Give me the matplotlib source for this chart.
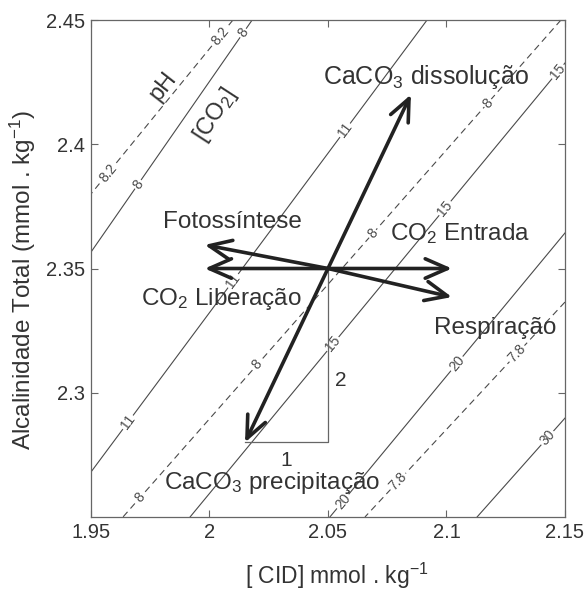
import math

import matplotlib

matplotlib.use("Agg")
import matplotlib.pyplot as plt

plt.rcParams["font.family"] = ["Liberation Sans", "DejaVu Sans"]
plt.rcParams["mathtext.fontset"] = "custom"
plt.rcParams["mathtext.rm"] = "Liberation Sans"
plt.rcParams["mathtext.it"] = "Liberation Sans:italic"

# CO2 isolines (solid): end points in [CID] / alkalinity units
co2_labels = ["8", "11", "15", "20", "30"]
co2_x0 = [2.018, 2.0918, 2.15, 2.15, 2.15]
co2_y0 = [2.45, 2.45, 2.4327, 2.3643, 2.2898]
co2_x1 = [1.95, 1.95, 1.9918, 2.0508, 2.1129]
co2_y1 = [2.3566, 2.2681, 2.25, 2.25, 2.25]
co2_label_pos = [[0.056, 0.708], [0.244, 0.577, 0.89], [0.019, 0.32, 0.619], [0.46, 0.945], [0.2]]

# pH isolines (dashed)
ph_labels = ["8.2", "8", "7.8"]
ph_x0 = [2.0099, 2.1483, 2.15]
ph_y0 = [2.45, 2.45, 2.3365]
ph_x1 = [1.95, 1.9635, 2.0656]
ph_y1 = [2.38, 2.25, 2.25]
ph_label_pos = [[0.09, 0.88], [0.167, 0.43, 0.694, 0.961], [0.24, 0.835]]

# process vectors, all starting from the same point
origin = (2.05, 2.35)
process_names = ["CaCO3 dissolução", "CaCO3 precipitação", "Fotossíntese",
                 "CO2 Liberação", "CO2 Entrada", "Respiração"]
process_x = [2.085, 2.015, 1.998, 1.998, 2.1023, 2.1023]
process_y = [2.42, 2.28, 2.3595, 2.35, 2.35, 2.3385]

x_ticks = [1.95, 2.0, 2.05, 2.1, 2.15]
x_ticklabels = ["1.95", "2", "2.05", "2.1", "2.15"]
y_ticks = [2.3, 2.35, 2.4, 2.45]
y_ticklabels = ["2.3", "2.35", "2.4", "2.45"]

LINE = "#4a4a4a"
TEXT = "#333333"

fig = plt.figure(figsize=(5.87, 5.92), dpi=100)
ax = fig.add_axes([0.155, 0.1267, 0.8075, 0.8395])
ax.set_xlim(1.95, 2.15)
ax.set_ylim(2.25, 2.45)


def draw_isoline(x0, y0, x1, y1, label, fracs, ls):
    ax.plot([x0, x1], [y0, y1], color=LINE, lw=0.8, ls=ls, zorder=1)
    p0 = ax.transData.transform((x0, y0))
    p1 = ax.transData.transform((x1, y1))
    ang = math.degrees(math.atan2(p1[1] - p0[1], p1[0] - p0[0]))
    if ang > 90:
        ang -= 180
    elif ang < -90:
        ang += 180
    for t in fracs:
        ax.text(x0 + t * (x1 - x0), y0 + t * (y1 - y0), label,
                rotation=ang, rotation_mode="anchor", ha="center", va="center",
                fontsize=10, color=LINE, zorder=2, clip_on=True,
                bbox=dict(boxstyle="square,pad=0.1", fc="white", ec="none"))


for i in range(len(co2_labels)):
    draw_isoline(co2_x0[i], co2_y0[i], co2_x1[i], co2_y1[i],
                 co2_labels[i], co2_label_pos[i], "-")
for i in range(len(ph_labels)):
    draw_isoline(ph_x0[i], ph_y0[i], ph_x1[i], ph_y1[i],
                 ph_labels[i], ph_label_pos[i], (0, (6, 4)))

# 1:2 triangle under the precipitation vector
ax.plot([origin[0], origin[0], process_x[1]],
        [origin[1], process_y[1], process_y[1]],
        color="#666666", lw=0.9, zorder=3)
ax.text(2.0323, 2.2729, "1", fontsize=15, color=TEXT, ha="center", va="center")
ax.text(2.0555, 2.3051, "2", fontsize=15, color=TEXT, ha="center", va="center")

for px, py in zip(process_x, process_y):
    ax.annotate("", xy=(px, py), xytext=origin,
                arrowprops=dict(arrowstyle="->,head_length=0.8,head_width=0.35",
                                lw=2.6, color="#222222", shrinkA=0, shrinkB=0,
                                mutation_scale=20),
                zorder=5)

big = dict(fontsize=17.5, color=TEXT, va="center")
ax.text(2.0480, 2.4271, r"CaCO$_\mathregular{3}$ dissolução", ha="left",
        **dict(big, fontsize=18))
ax.text(2.0098, 2.3688, "Fotossíntese", ha="center", **big)
ax.text(1.9709, 2.3378, r"CO$_\mathregular{2}$ Liberação", ha="left", **big)
ax.text(2.0762, 2.3640, r"CO$_\mathregular{2}$ Entrada", ha="left", **big)
ax.text(2.0949, 2.3261, "Respiração", ha="left", **big)
ax.text(1.9810, 2.2635, r"CaCO$_\mathregular{3}$ precipitação", ha="left", **big)

# isoline family names
ax.text(1.9806, 2.4234, "pH", fontsize=17, color=TEXT, rotation=52,
        ha="center", va="center")
ax.text(2.0023, 2.4118, r"[CO$_\mathregular{2}$]", fontsize=17, color=TEXT,
        rotation=57, ha="center", va="center")

ax.set_xticks(x_ticks)
ax.set_xticklabels(x_ticklabels)
ax.set_yticks(y_ticks)
ax.set_yticklabels(y_ticklabels)
ax.tick_params(direction="in", length=5, width=0.8, colors="#666666",
               labelcolor=TEXT, labelsize=14.5, top=True, right=True, pad=4)
for sp in ax.spines.values():
    sp.set_color("#666666")
    sp.set_linewidth(0.9)

ax.set_xlabel(r"[ CID] mmol . kg$^\mathregular{-1}$", fontsize=16.5, color=TEXT)
ax.xaxis.set_label_coords(0.519, -0.088)
ax.set_ylabel(r"Alcalinidade Total (mmol . kg$^\mathregular{-1}$)", fontsize=17.5,
              color=TEXT)
ax.yaxis.set_label_coords(-0.112, 0.477)

fig.savefig("out.png", dpi=100)
plt.close(fig)
